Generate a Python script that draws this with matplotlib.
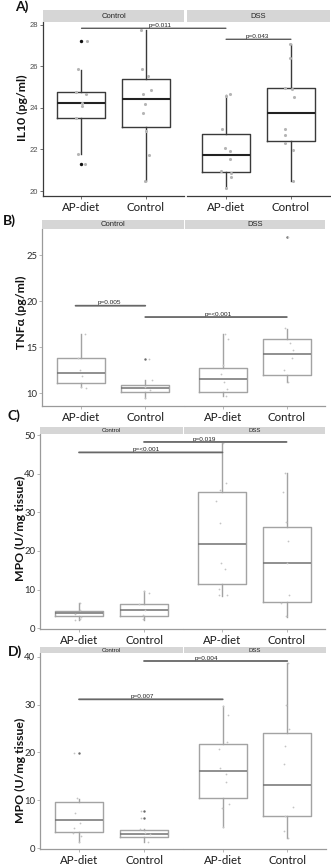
import matplotlib
matplotlib.use("Agg")
import matplotlib.pyplot as plt
from matplotlib.patches import ConnectionPatch

# ---------------- data ----------------
facets = ["Control", "DSS"]
groups = ["AP-diet", "Control"]

# order of each list: Control/AP-diet, Control/Control, DSS/AP-diet, DSS/Control
# Panel A : IL10 (pg/ml)
a_med = [24.23, 24.41, 21.73, 23.74]
a_q1 = [23.50, 23.06, 20.92, 22.39]
a_q3 = [24.75, 25.39, 22.74, 24.97]
a_lo = [21.78, 20.47, 20.15, 20.50]
a_hi = [25.84, 27.76, 24.63, 27.07]
a_out = [[27.23, 21.30], [], [], []]
a_pts = [[27.23, 25.87, 24.76, 24.67, 24.23, 24.10, 23.50, 21.80, 21.30],
         [27.76, 25.87, 25.55, 24.88, 24.68, 24.19, 23.75, 22.87, 21.72, 20.47],
         [24.67, 24.57, 22.97, 22.09, 21.94, 21.54, 20.98, 20.85, 20.68, 20.15],
         [27.07, 26.40, 24.97, 24.92, 24.52, 22.98, 22.68, 22.31, 21.97, 20.50]]
a_jit = [[0.088, -0.052, -0.083, 0.067, 0.016, 0.005, -0.083, -0.052, 0.062],
         [-0.075, -0.059, 0.044, 0.085, -0.034, -0.008, -0.034, 0.008, 0.054, -0.008],
         [0.057, -0.005, -0.057, -0.021, 0.057, 0.067, -0.072, 0.083, 0.083, 0.0],
         [-0.021, -0.010, -0.098, 0.010, 0.041, -0.098, -0.098, -0.098, 0.031, 0.031]]

# Panel B : TNFa (pg/ml)
b_med = [12.17, 10.58, 11.49, 14.24]
b_q1 = [11.05, 10.14, 10.14, 11.99]
b_q3 = [13.80, 10.87, 12.75, 15.87]
b_lo = [10.62, 9.42, 9.67, 11.16]
b_hi = [16.38, 11.41, 16.38, 16.96]
b_out = [[], [13.66], [], [26.92]]
b_pts = [[16.38, 13.84, 12.46, 11.85, 10.65, 10.54],
         [13.66, 11.41, 10.65, 10.29, 9.42],
         [16.42, 15.88, 13.04, 12.03, 11.16, 10.43, 9.71],
         [26.92, 17.03, 15.40, 14.64, 13.77, 12.50, 11.16]]
b_jit = [[0.062, -0.041, -0.016, 0.026, 0.0, 0.078],
         [0.062, 0.098, -0.005, 0.072, -0.005],
         [0.026, 0.079, 0.0, -0.042, 0.010, 0.063, 0.042],
         [0.026, -0.031, 0.047, 0.099, 0.084, -0.042, 0.026]]

# Panel C : MPO (U/mg tissue)
c_med = [3.88, 4.66, 21.90, 16.90]
c_q1 = [3.28, 3.28, 11.55, 6.90]
c_q3 = [4.48, 6.29, 35.17, 26.29]
c_lo = [2.16, 2.16, 8.45, 3.02]
c_hi = [6.64, 9.74, 47.84, 40.09]
c_out = [[], [], [], []]
c_pts = [[6.64, 4.74, 3.62, 3.02, 2.16, 2.33],
         [9.74, 9.05, 6.29, 4.74, 3.45, 2.33],
         [47.84, 37.50, 35.69, 32.84, 27.16, 16.81, 15.26, 10.26, 8.71, 8.53],
         [40.09, 35.26, 27.59, 22.59, 16.81, 8.62, 6.47, 3.19]]
c_jit = [[0.010, 0.010, -0.067, 0.026, -0.056, 0.010],
         [0.0, 0.077, -0.077, 0.010, -0.015, -0.015],
         [0.010, 0.063, -0.031, -0.094, -0.031, -0.016, 0.036, -0.052, -0.052, 0.078],
         [-0.031, -0.057, -0.005, 0.021, 0.005, 0.036, -0.083, -0.005]]

# Panel D : MPO (U/mg tissue)
d_med = [5.84, 2.99, 16.07, 13.15]
d_q1 = [3.48, 2.30, 10.43, 6.75]
d_q3 = [9.67, 3.83, 21.84, 24.00]
d_lo = [1.39, 1.39, 4.52, 2.09]
d_hi = [10.30, 3.97, 29.70, 38.61]
d_out = [[19.97], [7.86, 6.40], [], []]
d_pts = [[19.97, 10.43, 7.44, 5.36, 4.31, 3.13, 2.57, 1.39],
         [7.86, 6.40, 3.97, 3.13, 2.99, 1.39],
         [29.70, 27.83, 22.26, 20.80, 16.83, 15.51, 13.77, 9.32, 8.35, 4.52],
         [38.61, 29.91, 24.83, 21.43, 17.53, 8.70, 6.82, 3.62, 2.09]]
d_jit = [[-0.077, -0.026, -0.056, 0.021, -0.077, -0.092, 0.026, -0.005],
         [-0.051, -0.051, -0.067, 0.010, 0.087, 0.062],
         [0.005, 0.083, 0.072, -0.057, -0.036, 0.047, 0.057, 0.098, -0.005, 0.005],
         [0.016, -0.026, 0.026, -0.041, -0.057, 0.088, -0.041, -0.057, 0.010]]

# significance bars: (label, y, (facet, x) start, (facet, x) end, (facet, x) of text)
a_sig = [("p=0.011", 27.84, (0, 1), (1, 1), (0, 2.23)),
         ("p=0.043", 27.31, (1, 1), (1, 2), (1, 1.48))]
b_sig = [("p=0.005", 19.49, (0, 0.92), (0, 2), (0, 1.45)),
         ("p=<0.001", 18.26, (0, 2), (1, 2), (1, 0.92))]
c_sig = [("p=<0.001", 45.5, (0, 1), (1, 1), (0, 2.04)),
         ("p=0.019", 48.2, (0, 2), (1, 2), (1, 0.71))]
d_sig = [("p=0.007", 31.1, (0, 1), (1, 1), (0, 1.98)),
         ("p=0.004", 39.1, (0, 2), (1, 2), (1, 0.74))]

a_ticks = [20, 22, 24, 26, 28]
b_ticks = [10, 15, 20, 25]
c_ticks = [0, 10, 20, 30, 40, 50]
d_ticks = [0, 10, 20, 30, 40]

# ---------------- figure ----------------
W, H = 331, 865
fig = plt.figure(figsize=(W / 100, H / 100), dpi=100)
fig.patch.set_facecolor("white")


def rect(x0, y0, x1, y1):
    return [x0 / W, 1 - y1 / H, (x1 - x0) / W, (y1 - y0) / H]


panels = [
    dict(letter="A)", lpos=(15, 7), ylabel="IL10 (pg/ml)", ylpos=(22, 108),
         fx=[(43, 184), (187, 330)], ay=(22, 196), sy=(10, 22), ylim=(19.76, 28.14),
         ticks=a_ticks, med=a_med, q1=a_q1, q3=a_q3, lo=a_lo, hi=a_hi, out=a_out,
         pts=a_pts, jit=a_jit, sig=a_sig, dark=True, stripfs=5.5),
    dict(letter="B)", lpos=(3, 221), ylabel="TNFα (pg/ml)", ylpos=(21, 312),
         fx=[(42, 184), (185, 325)], ay=(229, 406), sy=(220, 229), ylim=(8.59, 27.83),
         ticks=b_ticks, med=b_med, q1=b_q1, q3=b_q3, lo=b_lo, hi=b_hi, out=b_out,
         pts=b_pts, jit=b_jit, sig=b_sig, dark=False, stripfs=5.5),
    dict(letter="C)", lpos=(7, 416), ylabel="MPO (U/mg tissue)", ylpos=(20, 528),
         fx=[(40, 183), (184, 325)], ay=(434, 629), sy=(427, 434), ylim=(-0.18, 50.26),
         ticks=c_ticks, med=c_med, q1=c_q1, q3=c_q3, lo=c_lo, hi=c_hi, out=c_out,
         pts=c_pts, jit=c_jit, sig=c_sig, dark=False, stripfs=4.3),
    dict(letter="D)", lpos=(8, 652), ylabel="MPO (U/mg tissue)", ylpos=(20, 770),
         fx=[(40, 183), (184, 326)], ay=(653, 849), sy=(647, 653), ylim=(-0.15, 40.77),
         ticks=d_ticks, med=d_med, q1=d_q1, q3=d_q3, lo=d_lo, hi=d_hi, out=d_out,
         pts=d_pts, jit=d_jit, sig=d_sig, dark=False, stripfs=4.3),
]

for p in panels:
    dark = p["dark"]
    box_c = "#3a3a3a" if dark else "#a3a3a3"
    med_c = "#222222" if dark else "#727272"
    spine_c = "#3a3a3a" if dark else "#9a9a9a"
    pt_c = "#b5b5b5" if dark else "#c4c4c4"
    pt_s = 5 if dark else 1.6
    out_c = "#111111" if dark else "#6a6a6a"
    out_s = 6 if dark else 3
    bar_c = "#333333" if dark else "#676767"
    bar_lw = 0.8 if dark else 1.3
    axes = []
    for fi in range(2):
        x0, x1 = p["fx"][fi]
        ax = fig.add_axes(rect(x0, p["ay"][0], x1, p["ay"][1]))
        ax.set_xlim(0.4, 2.6)
        ax.set_ylim(*p["ylim"])
        ax.set_facecolor("white")
        stats = []
        for gi in range(2):
            k = fi * 2 + gi
            stats.append(dict(med=p["med"][k], q1=p["q1"][k], q3=p["q3"][k],
                              whislo=p["lo"][k], whishi=p["hi"][k], fliers=[]))
        ax.bxp(stats, positions=[1, 2], widths=0.75, showfliers=False, showcaps=False,
               boxprops=dict(color=box_c, lw=1.0),
               whiskerprops=dict(color=box_c, lw=1.0),
               medianprops=dict(color=med_c, lw=1.5 if dark else 1.1),
               manage_ticks=False, zorder=2)
        for gi in range(2):
            k = fi * 2 + gi
            if p["out"][k]:
                ax.scatter([gi + 1] * len(p["out"][k]), p["out"][k], s=out_s, color=out_c,
                           zorder=3, linewidths=0)
            xs = [gi + 1 + j for j in p["jit"][k]]
            ax.scatter(xs, p["pts"][k], s=pt_s, color=pt_c, zorder=4, linewidths=0)
        ax.set_xticks([1, 2])
        ax.set_xticklabels(groups, fontfamily="Lato", fontsize=8.3, color="#1a1a1a")
        ax.tick_params(axis="x", length=2, width=0.5, color=spine_c, pad=2.5)
        for s in ["top", "right"]:
            ax.spines[s].set_visible(False)
        ax.spines["bottom"].set_color(spine_c)
        ax.spines["bottom"].set_linewidth(0.9)
        if fi == 0:
            ax.spines["left"].set_color(spine_c)
            ax.spines["left"].set_linewidth(0.9)
            ax.set_yticks(p["ticks"])
            if dark:
                ax.set_yticklabels([str(t) for t in p["ticks"]], fontfamily="Liberation Sans",
                                   fontsize=5.5, color="#4d4d4d")
            else:
                ax.set_yticklabels([str(t) for t in p["ticks"]], fontfamily="Lato",
                                   fontsize=6.8, color="#2a2a2a")
            ax.tick_params(axis="y", length=2, width=0.5, color=spine_c, pad=1.5)
        else:
            ax.spines["left"].set_visible(False)
            ax.set_yticks([])
        # strip
        sx = fig.add_axes(rect(x0, p["sy"][0], x1, p["sy"][1]))
        sx.set_facecolor("#d6d6d6")
        sx.set_xticks([])
        sx.set_yticks([])
        for s in sx.spines.values():
            s.set_visible(False)
        sx.text(0.5, 0.45, facets[fi], ha="center", va="center", fontsize=p["stripfs"],
                fontfamily="Liberation Sans", color="#222222", transform=sx.transAxes)
        axes.append(ax)

    for label, yv, (fa, xa), (fb, xb), (ft, xt) in p["sig"]:
        con = ConnectionPatch(xyA=(xa, yv), coordsA=axes[fa].transData,
                              xyB=(xb, yv), coordsB=axes[fb].transData,
                              color=bar_c, lw=bar_lw, zorder=5)
        fig.add_artist(con)
        axes[ft].annotate(label, (xt, yv), xytext=(0, 0.2), textcoords="offset points",
                          ha="center", va="bottom", fontsize=4.6,
                          fontfamily="Liberation Sans", color="#222222",
                          annotation_clip=False)

    fig.text(p["lpos"][0] / W, 1 - p["lpos"][1] / H, p["letter"], ha="left", va="center",
             fontsize=10, fontweight="bold", fontfamily="Lato", color="#111111")
    fig.text(p["ylpos"][0] / W, 1 - p["ylpos"][1] / H, p["ylabel"], ha="center", va="center",
             rotation=90, fontsize=8.8, fontweight="bold", fontfamily="Lato", color="#111111")

fig.savefig("out.png", dpi=100, facecolor="white")
